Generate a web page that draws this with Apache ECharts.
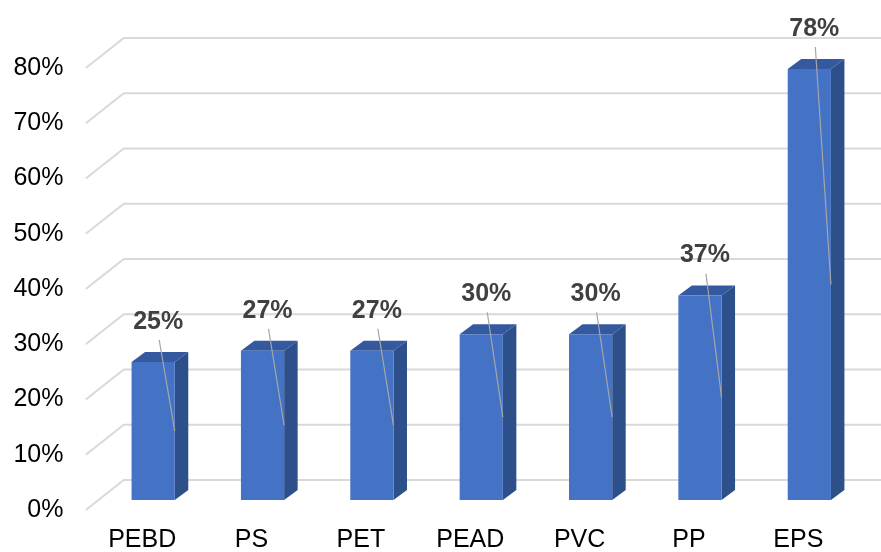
<!DOCTYPE html>
<html><head><meta charset="utf-8">
<script src="https://cdn.jsdelivr.net/npm/echarts@6/dist/echarts.min.js"></script>
<style>html,body{margin:0;padding:0;background:#fff}#c{width:881px;height:552px}</style>
</head><body><div id="c"></div>
<script>
var categories = ['PEBD', 'PS', 'PET', 'PEAD', 'PVC', 'PP', 'EPS'];
var values = [25, 27, 27, 30, 30, 37, 78];
var yTicks = [0, 10, 20, 30, 40, 50, 60, 70, 80];

var FRONT_DX = -12.7, FRONT_DY = 10;   // front plane offset from bar plane
var BACK_DX = 25.3, BACK_DY = -20;     // back plane offset from bar plane
var BAR_DX = 13.5, BAR_DY = -10;       // bar depth
var FONT = '"Liberation Sans", Arial, sans-serif';

var chart = echarts.init(document.getElementById('c'), null, {renderer: 'canvas'});
chart.setOption({
  animation: false,
  backgroundColor: '#ffffff',
  grid: {left: 98.5, right: 17, top: 58, bottom: 52, containLabel: false, outerBoundsMode: 'none'},
  xAxis: {
    type: 'category', data: categories, boundaryGap: true,
    axisLine: {show: false}, axisTick: {show: false}, splitLine: {show: false},
    axisLabel: {color: '#000', fontSize: 25, fontFamily: FONT, margin: 27, lineHeight: 26, padding: [0, 22, 0, 0]}
  },
  yAxis: {
    type: 'value', min: 0, max: 80, interval: 10,
    axisLine: {show: false}, axisTick: {show: false}, splitLine: {show: false},
    axisLabel: {formatter: '{value}%', color: '#000', fontSize: 25, fontFamily: FONT, margin: 35,
                verticalAlign: 'top', lineHeight: 20}
  },
  series: [
    {
      type: 'custom', z: 1, silent: true,
      data: yTicks.map(function (t) { return [0, t]; }),
      renderItem: function (params, api) {
        var p = api.coord([0, api.value(1)]);
        var left = params.coordSys.x;
        var y = p[1];
        return {
          type: 'polyline',
          shape: {points: [[left + FRONT_DX, y + FRONT_DY], [left + BACK_DX, y + BACK_DY], [881, y + BACK_DY]]},
          style: {stroke: '#d9d9d9', lineWidth: 2, fill: null}
        };
      }
    },
    {
      type: 'custom', z: 2, silent: true,
      data: values.map(function (v, i) { return [i, v]; }),
      renderItem: function (params, api) {
        var i = api.value(0), v = api.value(1);
        var top = api.coord([i, v]);
        var bot = api.coord([i, 0]);
        var w = api.size([1, 0])[0] * 0.395;
        var x0 = top[0] - w / 2, x1 = top[0] + w / 2;
        var yt = top[1], yb = bot[1];
        var mid = (yt + yb) / 2;
        var lx = top[0] + 5, ly = yt - 40;
        return {
          type: 'group',
          children: [
            {type: 'polygon', shape: {points: [[x1, yt], [x1 + BAR_DX, yt + BAR_DY], [x1 + BAR_DX, yb + BAR_DY], [x1, yb]]},
             style: {fill: '#2d4f8a'}},
            {type: 'polygon', shape: {points: [[x0, yt], [x0 + BAR_DX, yt + BAR_DY], [x1 + BAR_DX, yt + BAR_DY], [x1, yt]]},
             style: {fill: '#34599e'}},
            {type: 'rect', shape: {x: x0, y: yt, width: w, height: yb - yt},
             style: {fill: '#4472c4'}},
            {type: 'line', shape: {x1: lx + 1, y1: ly + 18, x2: x1, y2: mid},
             style: {stroke: '#a6a6a6', lineWidth: 1.2}},
            {type: 'text', style: {text: v + '%', x: lx, y: ly, align: 'center', verticalAlign: 'middle',
             fill: '#404040', font: 'bold 25px ' + FONT}}
          ]
        };
      }
    }
  ]
});
</script></body></html>
